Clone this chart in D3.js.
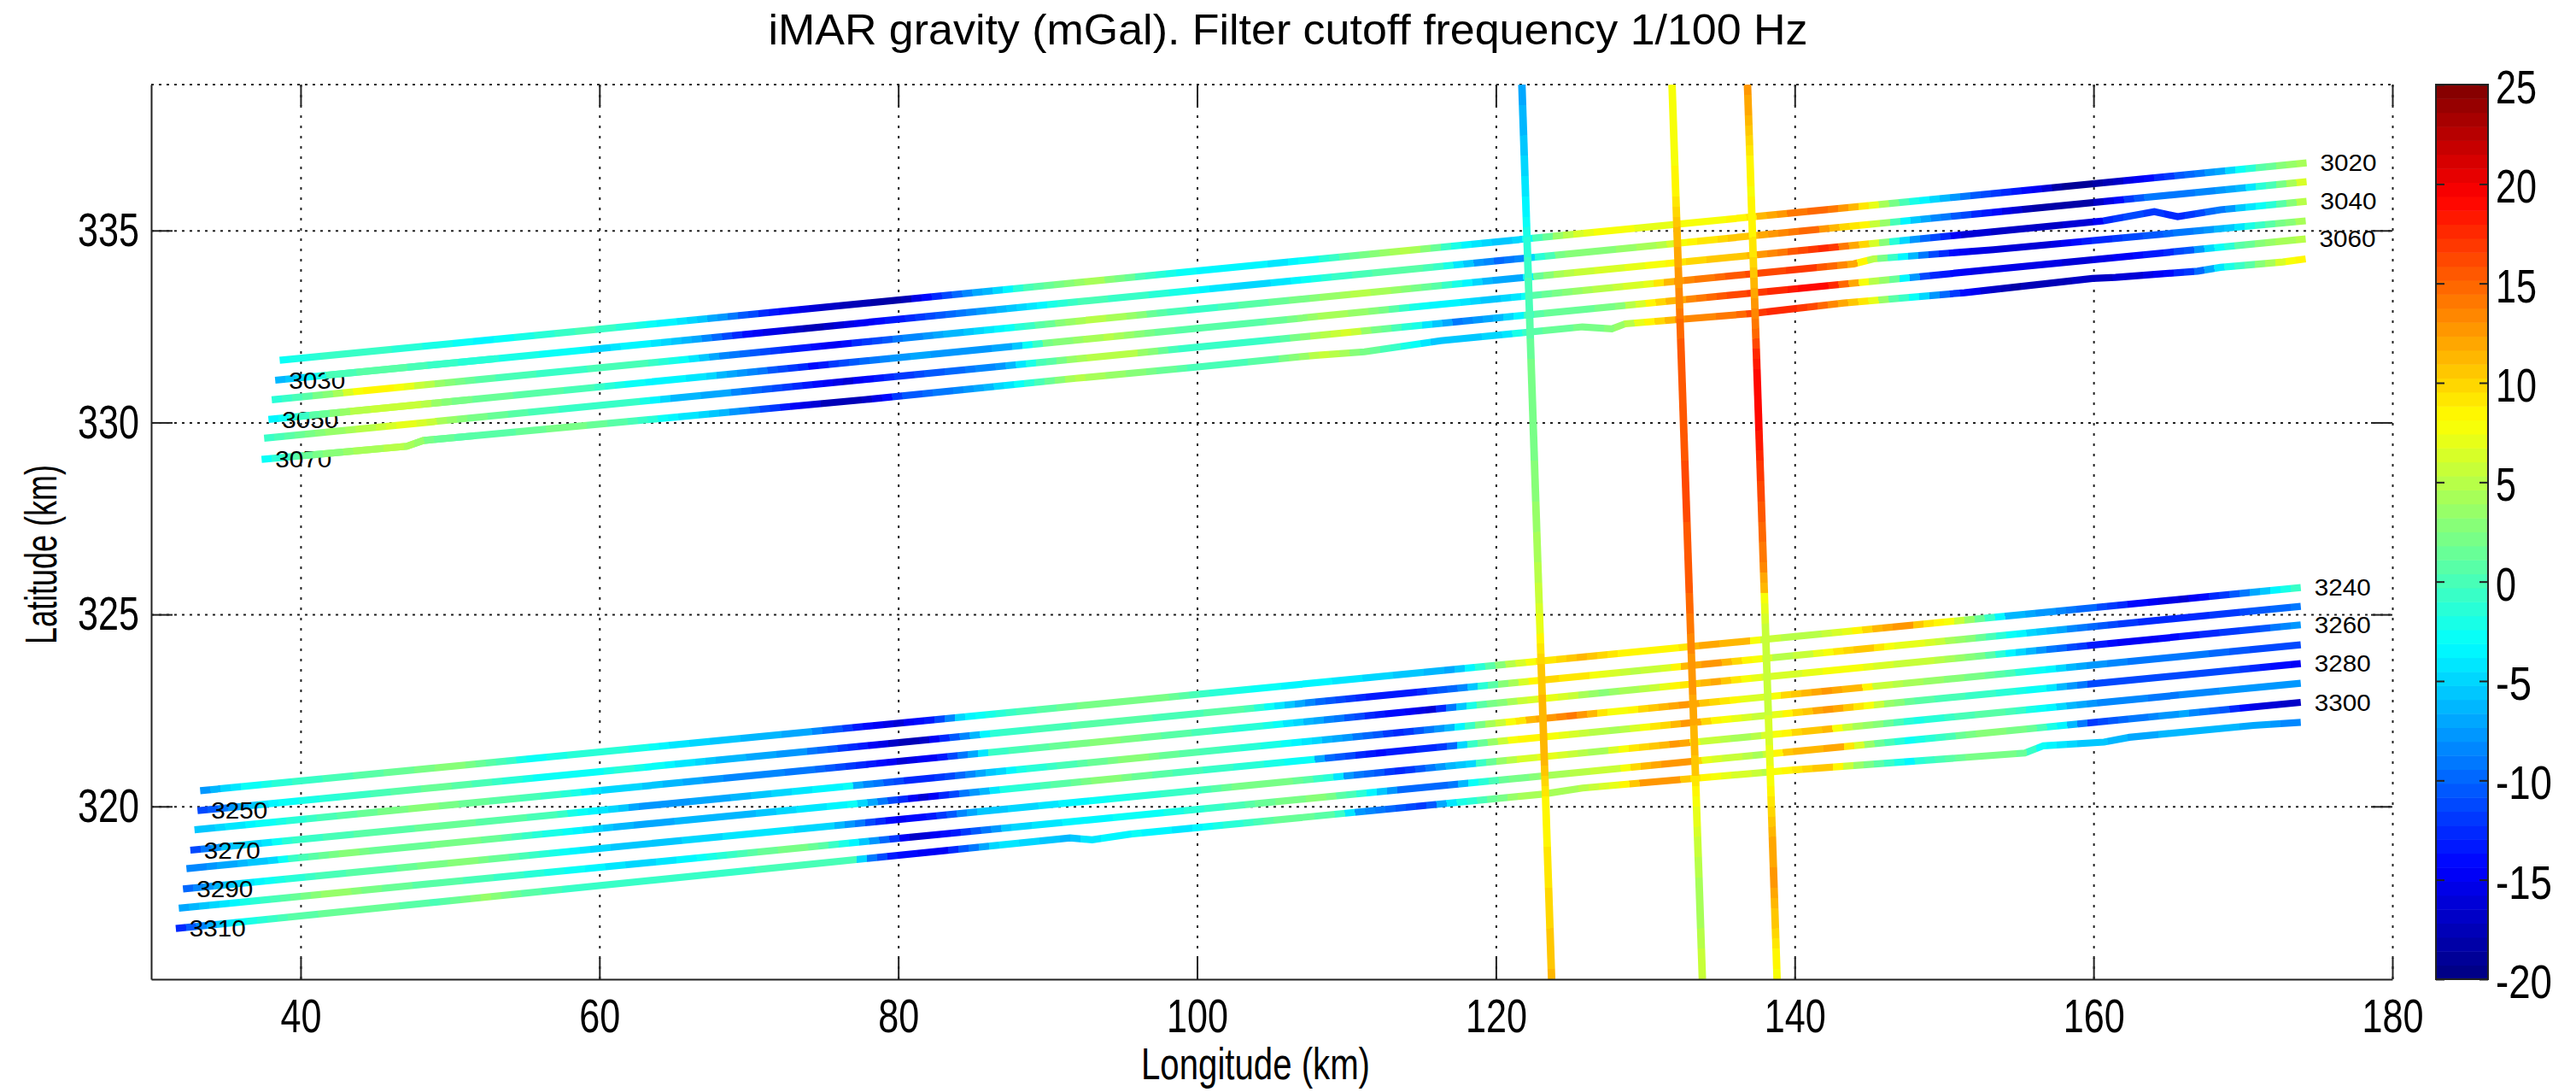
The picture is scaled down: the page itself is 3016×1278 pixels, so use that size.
<!DOCTYPE html>
<html>
<head>
<meta charset="utf-8">
<script src="https://cdn.jsdelivr.net/npm/d3@7"></script>
<style>
body { margin: 0; background: #fff; }
svg { display: block; }
text { font-family: "Liberation Sans", Arial, sans-serif; fill: #000; }
</style>
</head>
<body>
<script>
// tick labels
const lonTicks = [40, 60, 80, 100, 120, 140, 160, 180];
const latTicks = [320, 325, 330, 335];
const barTicks = [-20, -15, -10, -5, 0, 5, 10, 15, 20, 25];

// ground track of each line [lon, lat]
const path3020 = [[38.6, 331.62], [174.26, 336.76]];
const path3030 = [[38.3, 331.1], [174.26, 336.27]];
const path3040 = [[38.07, 330.59], [160.67, 335.25], [164.07, 335.49], [165.63, 335.36], [168.5, 335.54], [174.26, 335.76]];
const path3050 = [[37.85, 330.08], [143.95, 334.13], [145.27, 334.26], [153.3, 334.5], [174.2, 335.25]];
const path3060 = [[37.56, 329.59], [174.2, 334.78]];
const path3070 = [[37.39, 329.04], [47.11, 329.38], [48.2, 329.53], [77.87, 330.6], [91.88, 331.15], [99.89, 331.44], [107.95, 331.75], [111.2, 331.84], [116.3, 332.13], [125.79, 332.49], [127.76, 332.44], [128.65, 332.57], [137.17, 332.84], [143.29, 333.11], [151.35, 333.38], [159.93, 333.75], [161.47, 333.78], [166.96, 333.94], [168.5, 334.04], [172.67, 334.18], [174.2, 334.26]];
const path3240 = [[33.28, 320.41], [173.87, 325.7]];
const path3250 = [[33.1, 319.89], [173.87, 325.21]];
const path3260 = [[32.9, 319.39], [173.87, 324.73]];
const path3270 = [[32.62, 318.86], [173.87, 324.21]];
const path3280 = [[32.36, 318.38], [173.87, 323.72]];
const path3290 = [[32.13, 317.85], [173.87, 323.21]];
const path3300 = [[31.85, 317.35], [173.87, 322.71]];
const path3310 = [[31.65, 316.82], [91.5, 319.18], [92.98, 319.13], [95.55, 319.28], [123.15, 320.32], [125.8, 320.48], [139.9, 320.95], [155.4, 321.39], [156.65, 321.58], [160.7, 321.675], [162.4, 321.8], [170.7, 322.11], [173.87, 322.19]];
const pathA = [[121.74, 338.8], [123.73, 315.5]];
const pathB = [[131.79, 338.8], [133.82, 315.5]];
const pathC = [[136.84, 338.8], [138.82, 315.5]];

// gravity [lon, mGal]
const grav3020 = [[38.6, -3], [41.5, -1], [46, -1], [50.4, -2.5], [52.2, -3.5], [54.8, -2], [59.2, 0], [62.7, -2], [66.4, -5], [68.9, -9], [71.9, -14], [75.5, -17], [80, -18.5], [82.4, -13], [85.4, -7], [87.6, -3], [88.4, 0], [90.5, 2], [93.1, 4.5], [95, 2], [97.2, -1], [99.3, -3], [102.7, -3.5], [105.8, -4], [107.8, -2.5], [109.9, 0.5], [111.9, 3], [114, 5], [116, 1.5], [117.6, -3], [119.1, -5], [120.4, -6], [121.8, -4], [122.7, -0.5], [124, 3], [125.8, 7], [127.5, 8], [130.4, 7], [136.7, 8.5], [137.8, 11], [140, 14], [142.2, 15], [144.4, 10], [145, 8], [146.6, 2], [148.3, -3], [151.3, -9], [153.3, -12], [156.1, -14.5], [158, -19], [159.9, -19], [162.8, -15], [165.6, -11], [168.5, -7], [169.7, -3], [171.4, 1], [174.2, 5]];
const grav3030 = [[38.3, -7], [40.6, -4], [42, 0], [45.9, 1], [50.3, -1], [54.6, -2], [58.6, -3], [60, -5], [62.7, -3], [66.4, -7], [70, -14], [74.4, -18], [77.3, -15], [80.3, -13], [83.2, -10], [86.5, -7], [88.4, -5], [90.5, -2], [92.5, 0], [96.6, -1], [99.3, -2.5], [101.1, -4], [103.8, -5], [105.8, -4], [108.9, -1], [112.9, 1], [116, 0], [117.4, -4], [119.1, -8], [120.3, -10], [121.8, -8], [122.7, -2], [124.7, 3], [128, 3], [131.2, 5], [132.3, 8], [136.7, 11], [138.9, 13], [141.1, 15], [143.3, 10], [144.6, 9], [146.6, 1], [147.7, -5], [149.8, -9], [151.3, -11], [153.3, -14], [156.1, -18], [159.9, -18], [161.2, -15], [163.7, -9], [166.6, -9], [169.5, -7], [170.5, -4], [171.4, -1], [174.2, 7]];
const grav3040 = [[38.07, -2], [39.8, 0], [42, 3], [43.7, 8], [45.7, 9], [49.2, 4], [52.5, 0.5], [56.8, -0.5], [62.7, 0], [65.6, -3], [68.2, -8], [71.9, -12], [75.5, -15], [80.3, -9], [82.8, -7], [86.5, -4], [88.4, -1], [90.5, 2], [92.5, 5], [94.6, 4.5], [97.6, 1], [99.9, -1], [106.8, 2], [110.9, 5], [112.9, 4], [116, 1], [118, -3], [119.9, -7], [121.8, -7], [122.7, 1], [124.7, 5], [131.2, 8], [133.4, 10], [136.7, 11], [138.9, 14], [141.1, 17], [142.2, 18], [143.9, 12], [144.8, 9], [146.1, 2], [147.7, -7], [151.4, -16], [155.2, -17], [159.9, -16], [160.7, -13], [162.8, -11], [165.6, -13], [168.5, -9], [170.5, -4], [172.4, 0], [174.2, 6]];
const grav3050 = [[37.85, -4], [40.6, 0], [43.7, 5], [47.6, 6], [50.3, 2], [54.6, 1], [59, 0], [62.7, -3], [66.4, -4], [70, -8], [74.4, -14], [77.3, -10], [81, -7], [84.6, -8], [87.6, -7], [88.6, -3], [90, 2], [94, 5], [97, 2], [100, 0.5], [104.8, 1], [108.9, 4.5], [112, 3], [115, -3], [117, -3.5], [119.9, -6], [121.8, -4], [122.7, 1], [125.8, 4], [130.2, 7], [131.2, 10], [132.3, 13], [136.7, 16], [141.1, 17], [143.9, 12], [144.6, 8], [145.5, 4], [147.2, -3], [148.8, -10], [151.3, -15], [153.3, -16], [157.1, -16], [159.9, -13], [164.7, -10], [167.5, -8], [169.8, -4], [171.4, 0], [174.2, 5]];
const grav3060 = [[37.56, -1], [41.5, 3], [45.9, 6], [47.6, 7.5], [50.3, 3], [54.6, 0.5], [59, -1], [62.7, -1], [64.9, -6], [68.2, -7], [71.9, -11], [76.6, -16], [78.8, -13], [83.2, -10], [86.8, -8], [88.3, -4], [89.4, -0.5], [92.6, 5], [95.6, 5], [99.2, -1], [104.7, -1], [108.4, 5], [110.2, 6.5], [111.6, 3], [114.6, -2], [117.5, -9], [120.3, -6], [121.4, -4], [122.7, 1], [128, 2], [130.6, 9], [132.1, 12], [135.6, 16], [141.1, 19], [142.2, 19], [143.9, 12], [145, 6], [146.8, 1], [147.4, -4], [148.8, -12], [151.4, -15], [159.9, -16], [164.7, -13], [166.6, -10], [168, -4], [169.5, 0], [172, 4], [174.2, 5]];
const grav3070 = [[37.39, -3.5], [39.8, 1], [43.7, 4], [47, 5], [49.2, 1.5], [52.5, 0.5], [56.8, 2], [59, 2], [62.7, 0], [64.5, -3], [68.2, -6], [72.2, -13], [75.5, -18], [78, -17], [80.3, -11], [84.6, -8], [87.6, -4], [89, -1], [91.9, 5], [95.6, 3], [99.9, 0], [104.7, 0.5], [108.7, 6], [112, 1], [114.6, -3], [116.3, -6], [120.3, -5], [121.2, -3], [122.7, 1], [125.8, 2], [128, 3], [130.6, 9], [132.3, 13], [135.6, 14], [137.8, 17], [140, 18], [141.8, 15], [143.3, 12], [145, 8], [146.6, 1], [148.1, -3], [149.8, -9], [151.4, -14], [154.2, -18], [159.9, -17], [162.8, -16], [166.6, -12], [168, -6], [169.1, -2], [170.5, 1], [172.7, 7], [174.2, 9]];
const grav3240 = [[33.28, -8], [34.9, -5], [36.3, -3], [39.3, -1], [43.7, 0.5], [48.1, 2], [50.3, 3], [52.5, 1], [55.7, -3], [59, -1], [62.7, -2], [66.4, -5], [70, -6], [73.7, -7], [77.3, -13], [79.9, -16], [82.4, -13], [84.3, -4], [88.3, 0], [93.8, 2.5], [98.1, 2], [101, -1], [105, -3], [110, -4], [115, -6], [117, -7], [118.4, -3], [120, 2], [121.4, 6], [123, 9], [125.8, 11], [128, 9], [130.2, 8], [132.4, 9], [133.5, 12], [136.7, 11], [137.8, 6], [141.1, 4.5], [143.3, 7], [145.5, 11.5], [147.7, 13], [148.5, 10], [150.3, 8], [152.6, 1], [154.4, -6], [157.1, -8], [159.9, -10], [162.8, -14], [165.9, -16], [167.5, -14], [170.1, -9], [172, -4], [173.9, 0]];
const grav3250 = [[33.1, -12], [36, -7], [37.8, -3.5], [42.6, -1], [49.2, 1.5], [52.5, 0], [56.4, -3], [59, -3], [61.5, -1.5], [62.7, -2], [68.2, -6], [73.7, -8], [77.3, -13], [79.9, -17], [81.3, -18], [83.2, -12], [85, -7], [86.5, -1], [93.8, 1], [99.2, 0], [102.9, 1], [105.4, -4], [108.4, -10], [111.3, -13], [114.5, -13], [117, -10], [118.1, -8], [119.2, -1], [121.4, 5], [123.2, 10], [125.8, 9], [129.1, 5], [131.3, 6], [133, 12], [134.6, 13], [136.7, 9], [138.9, 5], [141.1, 6], [143.3, 10], [145.1, 11], [146, 8], [147.7, 7], [148.5, 7], [151.6, 3], [154.6, -3], [157.7, -7], [159.9, -10], [163.8, -13], [168.9, -12], [173.9, -9]];
const grav3260 = [[32.9, -6], [36, -4], [39.3, -1.5], [43.7, 1], [48.1, 3], [50.3, 2], [56.8, -0.5], [58.6, -2.5], [60.1, -5], [62.7, -5], [68.2, -8], [73.7, -9], [77.3, -12], [80.3, -16], [82.8, -14], [85.4, -6], [86.1, -1], [93.8, 3], [99.2, 0.5], [104.7, -2], [107.3, -6], [112, -13], [115.7, -16], [117, -9], [118.4, -2], [119.2, 1], [121.4, 5], [123.4, 8], [126.9, 3], [130.2, 5], [132.4, 9], [134.6, 12], [136.3, 9], [137.8, 6], [141.1, 7], [143.3, 8], [147.7, 5.5], [148.5, 6], [152.6, 2], [154.4, -3], [156.7, -8], [159.9, -13], [162.8, -15], [166.9, -13], [171, -11], [173.9, -7]];
const grav3270 = [[32.62, -12], [34.9, -6], [38, -4], [39.3, -1], [43.7, 0.5], [50.3, 1.5], [56.8, 0], [59, -3], [61.2, -5], [62.7, -8], [68.2, -7], [73.7, -4], [77, -3], [77.3, -7], [81, -13], [83.2, -12], [86.1, -6], [88.3, -2], [95.6, 3], [101, 0], [106.5, -3], [110.2, -8], [113.8, -13], [117, -6], [119.2, 3], [120.8, 7], [122.7, 12], [125.4, 14], [128, 7], [130.2, 10], [132.4, 13], [134.6, 10], [137.8, 6], [139.6, 10], [142, 13], [144.2, 11], [145.5, 6], [148.5, 4], [152.6, 2], [156.7, -3], [159.1, -7], [162.8, -9], [166.9, -9], [171, -11], [173.9, -11]];
const grav3280 = [[32.36, -9], [34.9, -7], [38.4, -5], [39.3, -1], [43.3, 3], [45.9, 1], [51.4, 2.5], [54.6, 0], [59, -4], [61.2, -6], [62.7, -7], [70, -6], [77, -3], [79.9, -12], [81.7, -16], [85.4, -7], [87.2, -2], [93.8, 3], [99.2, 0], [101, -0.5], [107.6, -3], [108.5, -9], [112, -14], [116.8, -12], [118.2, -1], [118.6, 0], [120.3, 5], [121.4, 9], [123.6, 8], [128, 4], [130.2, 8], [132.8, 13], [134.6, 9], [137.8, 5], [139.8, 9], [142.2, 13], [144.4, 9], [146.6, 3], [148.8, 0.5], [153.6, -1], [156.7, -3], [159.9, -11], [164.8, -11], [168.9, -11], [171, -13], [173.9, -15]];
const grav3290 = [[32.13, -10], [34.9, -6], [37.6, -3], [41.5, 0], [45.9, 1], [50.9, 3], [54.6, 0.5], [57.9, -3], [60.1, -5], [62.7, -6], [66.4, -5], [69.9, -4], [75.5, -5], [77.3, -9], [79.9, -15], [82.4, -13], [85.4, -6], [91.9, -3.5], [97.4, -1], [99.2, -1], [102.9, 2], [106.5, 2], [109.1, -2], [110.2, -8], [113.8, -13], [117.5, -5], [117.9, -7], [119.2, 0], [121.4, 6], [123.6, 7], [126.9, 4], [129.3, 9], [132.4, 13], [133.7, 6], [136.7, 4], [138.5, 7], [140.2, 10], [142.2, 11], [143.3, 6], [146.6, 1], [148.1, -2], [151.4, 0], [153.6, 1], [156.7, -3], [159.7, -8], [164.8, -9], [168.9, -8], [173.9, -8]];
const grav3300 = [[31.85, -7], [34.5, -5], [35.8, -3], [38.2, 0], [41.9, 4], [45.9, 1.5], [52.5, 0], [56.8, -2], [62.7, -5], [66.4, -3], [71.9, 2], [73.7, 2.5], [75.5, 0], [77.3, -4], [79.2, -10], [81, -17], [82.4, -15], [84.6, -12], [87.6, -5], [91.9, -3.5], [97.8, -2.5], [100.7, -1], [104.7, 1.5], [108.4, 3], [110.9, -1], [113.8, -10], [117, -10], [118.4, -3], [120.3, 1], [123.6, 4], [128, 6], [130.2, 12], [132.8, 13], [134.1, 7], [137.8, 4], [139.6, 11], [142.9, 12], [145.1, 3], [147.7, -3], [148.5, -2], [152.6, 3], [155.6, 2], [157.7, -3], [159.9, -12], [161.8, -10], [165.9, -7], [168.9, -11], [171, -16], [173.9, -17]];
const grav3310 = [[31.65, -14], [33.4, -8], [36, -3], [40, 1], [45.9, 1.5], [49.2, 0], [52.5, 4], [54.6, 1], [59, -1], [62.7, -1], [67.1, -1], [71.9, 0], [77, 0], [78, -8], [79.9, -14], [82.8, -15], [85.4, -8], [86.8, -4], [91.2, -6], [93, -4], [95.6, -3], [99.2, -4], [102.9, -1], [106.5, 2], [109.5, 0], [110.9, -8], [115.3, -12], [117, -4], [117.9, -2], [121.4, 4], [124.9, 4], [128, 7], [130.2, 13], [131.9, 13], [133.2, 9], [138.1, 5], [138.9, 8], [142.2, 11], [144.4, 3], [147.7, -3.5], [148.5, -1], [151.6, 2], [155, 2], [156.7, -3], [158.7, -5], [162.8, -7], [166.9, -6], [171, -7], [173.9, -9]];
// the three cross lines are read along latitude [lat, mGal]
const gravA = [[338.8, -7], [337.52, -6], [336.04, -4], [335.3, -3], [334.85, -2], [334.18, -0.5], [333.07, 0], [332.33, 1], [331.44, 2], [329, 2.5], [327.5, 3.5], [326, 5], [325.43, 6], [324.7, 7], [323.94, 10], [322.47, 11.5], [320.98, 11], [320.25, 9], [319.8, 8], [318.76, 9], [317.27, 10], [315.8, 11], [315.5, 11]];
const gravB = [[338.8, 7.5], [337.52, 7.5], [336.04, 8.5], [335.3, 10.5], [334.18, 12], [333.07, 13.5], [332.33, 15], [331.44, 15.5], [328.17, 16], [325.9, 15.5], [325.43, 15], [324.7, 14], [323.94, 13], [322.47, 12], [320.98, 10.5], [320.6, 9], [319.8, 7], [318, 4.5], [317.27, 4], [315.8, 6], [315.5, 6]];
const gravC = [[338.8, 13], [338.26, 12], [337.52, 10], [336.78, 8.5], [336.04, 8], [335.3, 8.5], [334.56, 9], [333.81, 11], [333.07, 13], [332.33, 15], [331.44, 19], [330, 19], [328.17, 16], [326.46, 14], [325.6, 11], [325.43, 8], [324.7, 6], [323.2, 5.5], [321.72, 6.5], [320.6, 8], [319.8, 10], [319.13, 12], [318, 12.5], [317.27, 11], [315.8, 8], [315.5, 8]];

const lineIds = [3020, 3030, 3040, 3050, 3060, 3070, 3240, 3250, 3260, 3270, 3280, 3290, 3300, 3310];
const linePaths = [path3020, path3030, path3040, path3050, path3060, path3070, path3240, path3250, path3260, path3270, path3280, path3290, path3300, path3310];
const lineGrav = [grav3020, grav3030, grav3040, grav3050, grav3060, grav3070, grav3240, grav3250, grav3260, grav3270, grav3280, grav3290, grav3300, grav3310];
// labels sitting at the west end of the line (the rest go at the east end)
const westLabels = [3030, 3050, 3070, 3250, 3270, 3290, 3310];
// these labels are overprinted by their own line from this longitude on
const overprint = { 3030: 41.6, 3050: 39.9, 3070: 40.3 };

const w = 3016;
const h = 1278;

const svg = d3.select('body').append('svg').attr('width', w).attr('height', h);
const defs = svg.append('defs');

const x = d3.scaleLinear().domain([30, 180]).range([177, 2801]);
const y = d3.scaleLinear().domain([315.5, 338.8]).range([1146, 99]);
const barY = d3.scaleLinear().domain([-20, 25]).range([1146, 99]);

// matlab jet with 64 levels
const clamp01 = (v) => Math.max(0, Math.min(1, v));
function jet(level) {
    const t = (level + 0.5) / 64;
    const r = clamp01(1.5 - Math.abs(4 * t - 3));
    const g = clamp01(1.5 - Math.abs(4 * t - 2));
    const b = clamp01(1.5 - Math.abs(4 * t - 1));
    return d3.rgb(r * 255, g * 255, b * 255).formatHex();
}
const levelOf = d3.scaleQuantize().domain([-20, 25]).range(d3.range(64));
const colorOf = (v) => jet(levelOf(v));

const lineGen = d3.line().x((d) => x(d[0])).y((d) => y(d[1]));

// dotted grid, drawn from the axes
const gridBottom = svg.append('g').attr('transform', `translate(0,${y.range()[0]})`)
    .call(d3.axisBottom(x).tickValues(lonTicks).tickSize(-1047).tickFormat(''));
const gridLeft = svg.append('g').attr('transform', `translate(${x.range()[0]},0)`)
    .call(d3.axisLeft(y).tickValues(latTicks).tickSize(-2624).tickFormat(''));
gridBottom.select('.domain').remove();
gridLeft.select('.domain').remove();
gridBottom.selectAll('line').attr('stroke', '#222').attr('stroke-width', 2).attr('stroke-dasharray', '3 9');
gridLeft.selectAll('line').attr('stroke', '#222').attr('stroke-width', 2).attr('stroke-dasharray', '3 6');
svg.append('line').attr('x1', x(30)).attr('x2', x(180)).attr('y1', y(338.8)).attr('y2', y(338.8))
    .attr('stroke', '#222').attr('stroke-width', 2).attr('stroke-dasharray', '3 6');

svg.append('clipPath').attr('id', 'plot-area').append('rect')
    .attr('x', x(30)).attr('y', y(338.8)).attr('width', x(180) - x(30)).attr('height', y(315.5) - y(338.8));

// gradient along a line, in blocks of one jet level each
function addGradient(id, path, grav, along) {
    const pos = (d) => (along === 'lon' ? d[0] : d[1]);
    const first = path[0];
    const last = path[path.length - 1];
    const value = d3.scaleLinear().domain(grav.map((d) => d[0])).range(grav.map((d) => d[1])).clamp(true);
    const at = d3.scaleLinear().domain([0, 1]).range([pos(first), pos(last)]);
    const len = Math.hypot(x(last[0]) - x(first[0]), y(last[1]) - y(first[1]));
    const n = Math.ceil(len / 12);
    const grad = defs.append('linearGradient').attr('id', id)
        .attr('gradientUnits', 'userSpaceOnUse')
        .attr('x1', x(first[0])).attr('y1', y(first[1]))
        .attr('x2', x(last[0])).attr('y2', y(last[1]));
    d3.range(n).forEach((i) => {
        const c = colorOf(value(at((i + 0.5) / n)));
        grad.append('stop').attr('offset', i / n).attr('stop-color', c);
        grad.append('stop').attr('offset', (i + 1) / n).attr('stop-color', c);
    });
}

const plot = svg.append('g').attr('clip-path', 'url(#plot-area)');

lineIds.forEach((id, i) => {
    const path = linePaths[i];
    addGradient(`grad-${id}`, path, lineGrav[i], 'lon');
    const drawn = (sel) => sel.attr('d', lineGen(path)).attr('fill', 'none')
        .attr('stroke', `url(#grad-${id})`).attr('stroke-width', 8.2);
    plot.append('path').call(drawn);

    const west = westLabels.includes(id);
    const end = west ? path[0] : path[path.length - 1];
    plot.append('text')
        .attr('x', x(end[0]) + 16)
        .attr('y', y(end[1]))
        .attr('dy', '0.36em')
        .attr('font-size', 27)
        .attr('textLength', 66)
        .attr('lengthAdjust', 'spacingAndGlyphs')
        .text(id);

    if (overprint[id]) {
        svg.append('clipPath').attr('id', `over-${id}`).append('rect')
            .attr('x', x(overprint[id])).attr('y', y(338.8))
            .attr('width', 200).attr('height', y(315.5) - y(338.8));
        plot.append('g').attr('clip-path', `url(#over-${id})`).append('path').call(drawn);
    }
});

[['A', pathA, gravA], ['B', pathB, gravB], ['C', pathC, gravC]].forEach(([id, path, grav]) => {
    addGradient(`grad-${id}`, path, grav, 'lat');
    plot.append('path').attr('d', lineGen(path)).attr('fill', 'none')
        .attr('stroke', `url(#grad-${id})`).attr('stroke-width', 8.8);
});

// solid ticks on all four sides
function styleAxis(g, tickFont) {
    g.selectAll('.domain').attr('stroke', '#222').attr('stroke-width', 2);
    g.selectAll('line').attr('stroke', '#222').attr('stroke-width', 2);
    g.selectAll('text').attr('font-size', 55).attr('fill', '#000')
        .attr('lengthAdjust', 'spacingAndGlyphs')
        .attr('textLength', function () { return this.textContent.length * tickFont; });
}

const axisB = svg.append('g').attr('transform', `translate(0,${y(315.5)})`)
    .call(d3.axisBottom(x).tickValues(lonTicks).tickSizeInner(-25).tickSizeOuter(0).tickPadding(22));
styleAxis(axisB, 24);
axisB.selectAll('text').attr('dy', '0.72em');

const axisL = svg.append('g').attr('transform', `translate(${x(30)},0)`)
    .call(d3.axisLeft(y).tickValues(latTicks).tickSizeInner(-25).tickSizeOuter(0).tickPadding(14));
styleAxis(axisL, 24);

const axisT = svg.append('g').attr('transform', `translate(0,${y(338.8)})`)
    .call(d3.axisTop(x).tickValues(lonTicks).tickSize(-25).tickFormat(''));
axisT.select('.domain').remove();
axisT.selectAll('line').attr('stroke', '#222').attr('stroke-width', 2);

const axisR = svg.append('g').attr('transform', `translate(${x(180)},0)`)
    .call(d3.axisRight(y).tickValues(latTicks).tickSize(-25).tickFormat(''));
axisR.select('.domain').remove();
axisR.selectAll('line').attr('stroke', '#222').attr('stroke-width', 2);

// colour bar
const bar = svg.append('g');
const barStep = (barY(-20) - barY(25)) / 64;
bar.selectAll('rect').data(d3.range(64)).enter().append('rect')
    .attr('x', 2852).attr('width', 61)
    .attr('y', (d) => barY(-20) - (d + 1) * barStep)
    .attr('height', barStep + 0.5)
    .attr('fill', (d) => jet(d));
bar.append('rect').attr('x', 2852).attr('width', 61).attr('y', barY(25)).attr('height', barY(-20) - barY(25))
    .attr('fill', 'none').attr('stroke', '#222').attr('stroke-width', 2);

const barAxis = svg.append('g').attr('transform', 'translate(2913,0)')
    .call(d3.axisRight(barY).tickValues(barTicks).tickSizeInner(-10).tickSizeOuter(0).tickPadding(9).tickFormat((d) => d));
barAxis.select('.domain').remove();
barAxis.selectAll('line').attr('stroke', '#222').attr('stroke-width', 2);
barAxis.selectAll('text').attr('font-size', 55).attr('fill', '#000').attr('dy', '0.39em')
    .attr('lengthAdjust', 'spacingAndGlyphs')
    .attr('textLength', function () { return this.textContent.length * 24 - (this.textContent[0] === '-' ? 6 : 0); });
const barLeft = svg.append('g').attr('transform', 'translate(2852,0)')
    .call(d3.axisLeft(barY).tickValues(barTicks).tickSizeInner(-10).tickSizeOuter(0).tickFormat(''));
barLeft.select('.domain').remove();
barLeft.selectAll('line').attr('stroke', '#222').attr('stroke-width', 2);

// titles
svg.append('text').attr('x', 1508).attr('y', 52).attr('text-anchor', 'middle')
    .attr('font-size', 50).attr('textLength', 1217).attr('lengthAdjust', 'spacingAndGlyphs')
    .text('iMAR gravity (mGal). Filter cutoff frequency 1/100 Hz');
svg.append('text').attr('x', 1470).attr('y', 1263).attr('text-anchor', 'middle')
    .attr('font-size', 52).attr('textLength', 268).attr('lengthAdjust', 'spacingAndGlyphs')
    .text('Longitude (km)');
svg.append('text').attr('transform', 'translate(66,649) rotate(-90)').attr('text-anchor', 'middle')
    .attr('font-size', 52).attr('textLength', 210).attr('lengthAdjust', 'spacingAndGlyphs')
    .text('Latitude (km)');
</script>
</body>
</html>
